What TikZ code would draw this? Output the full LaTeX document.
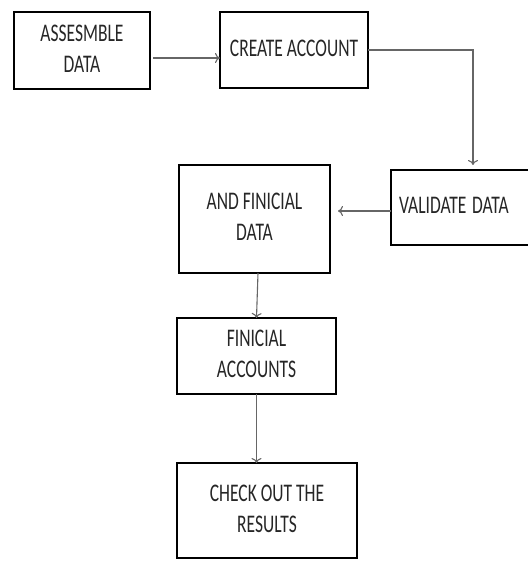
\documentclass[tikz,border=0pt]{standalone}
\usepackage{fontspec}
\setmainfont{Carlito}
\usepackage{graphicx}
\usetikzlibrary{calc,arrows.meta}

\newcommand{\boxtext}[1]{\scalebox{1}[1.45]{\begin{tabular}{@{}c@{}}#1\end{tabular}}}

\begin{document}
\begin{tikzpicture}[x=1pt, y=-1pt,
    stage/.style={draw, line width=2.6pt, inner sep=0pt, outer sep=0pt,
        text=black!85, font=\fontsize{17.5}{21.5}\selectfont},
    flow/.style={draw=black!60, line width=1.1pt, -{To[length=5pt, width=10pt]}}]
    \useasboundingbox (0, 0) rectangle (527, 561);

    \node [stage, minimum width=136pt, minimum height=77pt] (ASM) at (82, 50.5) {\boxtext{ASSESMBLE\\DATA}};
    \node [stage, minimum width=148pt, minimum height=76pt] (CRT) at (294, 50) {\boxtext{CREATE ACCOUNT}};
        \node [stage, minimum width=140pt, minimum height=75pt, text width=124pt, align=left] (VAL) at (461, 207.5) {\boxtext{VALIDATE DATA}};
        \node [stage, minimum width=151pt, minimum height=108pt] (AFD) at (254.5, 219) {\boxtext{AND FINICIAL\\DATA}};
            \node [stage, minimum width=159pt, minimum height=76pt] (FAC) at (256.5, 356) {\boxtext{FINICIAL\\ACCOUNTS}};
            \node [stage, minimum width=180pt, minimum height=95pt] (CHK) at (267, 510.5) {\boxtext{CHECK OUT THE\\RESULTS}};

    \draw [flow] ([xshift=3pt, yshift=-7.5pt]ASM.east) -- ([yshift=-8pt]CRT.west);
    \draw [flow] (CRT.east) -| ([xshift=12pt, yshift=5pt]VAL.north);
        \draw [flow] ([yshift=-3.5pt]VAL.west) -- ([xshift=8pt, yshift=8pt]AFD.east);
        \draw [flow] ([xshift=3.5pt]AFD.south) -- (FAC.north);
            \draw [flow] (FAC.south) -- (FAC.south |- CHK.north);
\end{tikzpicture}
\end{document}
